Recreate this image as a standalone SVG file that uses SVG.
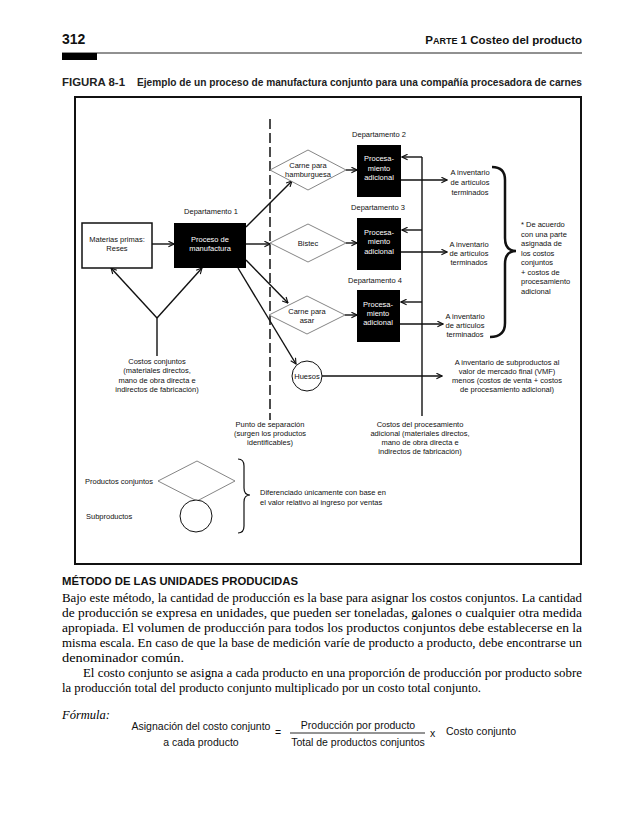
<svg xmlns="http://www.w3.org/2000/svg" width="638" height="820" viewBox="0 0 638 820">
<defs>
<style>
.t{font-family:"Liberation Sans",Arial,sans-serif;font-size:7.5px;fill:#111;}
.c{text-anchor:middle;}
.w{fill:#fff;}
.ln{stroke:#111;stroke-width:1.4;fill:none;}
.dia{fill:#fff;stroke:#777;stroke-width:0.9;}
.blk{fill:#000;}
.body{font-family:"Liberation Serif","Times New Roman",serif;font-size:12.5px;fill:#000;}
.f{font-family:"Liberation Sans",Arial,sans-serif;font-size:10.5px;fill:#111;}
</style>
<marker id="ah" viewBox="0 0 10 10" refX="9" refY="5" markerWidth="7" markerHeight="7" orient="auto" markerUnits="userSpaceOnUse">
<path d="M1,1 L9,5 L1,9" fill="none" stroke="#111" stroke-width="1.6"/>
</marker>
</defs>
<rect width="638" height="820" fill="#fff"/>

<g id="header">
<text x="62" y="44" font-family="Liberation Sans,Arial,sans-serif" font-weight="bold" font-size="14" fill="#111">312</text>
<text x="582" y="44" text-anchor="end" font-family="Liberation Sans,Arial,sans-serif" font-weight="bold" font-size="11.5" fill="#111">P<tspan font-size="9">ARTE</tspan> 1 Costeo del producto</text>
<line x1="62" y1="53" x2="582" y2="53" stroke="#222" stroke-width="1"/>
<rect x="62" y="53" width="35" height="7" fill="#000"/>
<text x="62" y="86" font-family="Liberation Sans,Arial,sans-serif" font-weight="bold" font-size="10.5" fill="#222" textLength="63" lengthAdjust="spacingAndGlyphs">FIGURA 8-1</text>
<text x="137" y="86" font-family="Liberation Sans,Arial,sans-serif" font-weight="bold" font-size="10.5" fill="#222" textLength="445" lengthAdjust="spacingAndGlyphs">Ejemplo de un proceso de manufactura conjunto para una compañía procesadora de carnes</text>
</g>

<g id="frame">
<rect x="75" y="97" width="506" height="467" fill="none" stroke="#111" stroke-width="2"/>
</g>

<g id="connectors">
<line x1="270" y1="119" x2="270" y2="420" stroke="#111" stroke-width="1.5" stroke-dasharray="10,4"/>
<line class="ln" x1="152" y1="244" x2="174" y2="244" marker-end="url(#ah)"/>
<line class="ln" x1="246" y1="227" x2="292" y2="181" marker-end="url(#ah)"/>
<line class="ln" x1="246" y1="244" x2="270" y2="244" marker-end="url(#ah)"/>
<line class="ln" x1="246" y1="260" x2="288" y2="303" marker-end="url(#ah)"/>
<line class="ln" x1="238" y1="268" x2="296" y2="364" marker-end="url(#ah)"/>
<line class="ln" x1="157" y1="318" x2="111" y2="268" marker-end="url(#ah)"/>
<line class="ln" x1="157" y1="318" x2="202" y2="268" marker-end="url(#ah)"/>
<line class="ln" x1="157" y1="318" x2="157" y2="356"/>
<line class="ln" x1="346" y1="170" x2="357" y2="170" marker-end="url(#ah)"/>
<line class="ln" x1="346" y1="243" x2="357" y2="243" marker-end="url(#ah)"/>
<line class="ln" x1="345" y1="315" x2="357" y2="315" marker-end="url(#ah)"/>
<line class="ln" x1="422" y1="157" x2="422" y2="416"/>
<line class="ln" x1="422" y1="157" x2="402" y2="157" marker-end="url(#ah)"/>
<line class="ln" x1="422" y1="230" x2="402" y2="230" marker-end="url(#ah)"/>
<line class="ln" x1="422" y1="302" x2="401" y2="302" marker-end="url(#ah)"/>
<line class="ln" x1="401" y1="180" x2="447" y2="180" marker-end="url(#ah)"/>
<line class="ln" x1="401" y1="252" x2="447" y2="252" marker-end="url(#ah)"/>
<line class="ln" x1="400" y1="324" x2="443" y2="324" marker-end="url(#ah)"/>
<line class="ln" x1="322" y1="376" x2="442" y2="376" marker-end="url(#ah)"/>
<path d="M492,167 Q505,167 505,180 L505,238 Q505,251 516,251 Q505,251 505,264 L505,323 Q505,337 490,337" fill="none" stroke="#111" stroke-width="2.5"/>
</g>

<g id="materias">
<rect x="82" y="223" width="70" height="45" fill="#fff" stroke="#111" stroke-width="1.5"/>
<text class="t c" x="117" y="242">Materias primas:</text>
<text class="t c" x="117" y="251">Reses</text>
</g>

<g id="dept1">
<text class="t c" x="211" y="214">Departamento 1</text>
<rect class="blk" x="174" y="223" width="72" height="45"/>
<text class="t c w" x="210" y="242">Proceso de</text>
<text class="t c w" x="210" y="251">manufactura</text>
</g>

<g id="costos-conjuntos">
<text class="t c" x="157" y="364">Costos conjuntos</text>
<text class="t c" x="157" y="373">(materiales directos,</text>
<text class="t c" x="157" y="383">mano de obra directa e</text>
<text class="t c" x="157" y="392">indirectos de fabricación)</text>
</g>

<g id="hamburguesa">
<polygon class="dia" points="270,170 308,150 346,170 308,190"/>
<text class="t c" x="308" y="168">Carne para</text>
<text class="t c" x="308" y="177">hamburguesa</text>
</g>

<g id="bistec">
<polygon class="dia" points="270,243 308,224 346,243 308,262"/>
<text class="t c" x="308" y="246">Bistec</text>
</g>

<g id="asar">
<polygon class="dia" points="269,315 307,296 345,315 307,334"/>
<text class="t c" x="307" y="314">Carne para</text>
<text class="t c" x="307" y="323">asar</text>
</g>

<g id="huesos">
<circle cx="307" cy="376" r="15" fill="#fff" stroke="#111" stroke-width="1"/>
<text class="t c" x="307" y="379">Huesos</text>
</g>

<g id="punto-separacion">
<text class="t c" x="270" y="427">Punto de separación</text>
<text class="t c" x="270" y="436">(surgen los productos</text>
<text class="t c" x="270" y="445">identificables)</text>
</g>

<g id="dept2">
<text class="t c" x="379" y="137">Departamento 2</text>
<rect class="blk" x="357" y="145" width="44" height="52"/>
<text class="t c w" x="379" y="161">Procesa-</text>
<text class="t c w" x="379" y="171">miento</text>
<text class="t c w" x="379" y="180">adicional</text>
</g>

<g id="dept3">
<text class="t c" x="378" y="210">Departamento 3</text>
<rect class="blk" x="357" y="218" width="44" height="52"/>
<text class="t c w" x="379" y="235">Procesa-</text>
<text class="t c w" x="379" y="244">miento</text>
<text class="t c w" x="379" y="254">adicional</text>
</g>

<g id="dept4">
<text class="t c" x="375" y="283">Departamento 4</text>
<rect class="blk" x="357" y="290" width="43" height="52"/>
<text class="t c w" x="378" y="307">Procesa-</text>
<text class="t c w" x="378" y="316">miento</text>
<text class="t c w" x="378" y="325">adicional</text>
</g>

<g id="inv2">
<text class="t c" x="470" y="175">A inventario</text>
<text class="t c" x="470" y="185">de artículos</text>
<text class="t c" x="470" y="195">terminados</text>
</g>
<g id="inv3">
<text class="t c" x="469" y="247">A inventario</text>
<text class="t c" x="469" y="256">de artículos</text>
<text class="t c" x="469" y="265">terminados</text>
</g>
<g id="inv4">
<text class="t c" x="465" y="319">A inventario</text>
<text class="t c" x="465" y="328">de artículos</text>
<text class="t c" x="465" y="337">terminados</text>
</g>

<g id="nota">
<text class="t" x="521" y="227">* De acuerdo</text>
<text class="t" x="521" y="236.5">con una parte</text>
<text class="t" x="521" y="246">asignada de</text>
<text class="t" x="521" y="255.5">los costos</text>
<text class="t" x="521" y="265">conjuntos</text>
<text class="t" x="521" y="274.5">+ costos de</text>
<text class="t" x="521" y="284">procesamiento</text>
<text class="t" x="521" y="293.5">adicional</text>
</g>

<g id="subproductos-inv">
<text class="t c" x="507" y="365">A inventario de subproductos al</text>
<text class="t c" x="507" y="374">valor de mercado final  (VMF)</text>
<text class="t c" x="507" y="383">menos (costos de venta + costos</text>
<text class="t c" x="507" y="392">de  procesamiento adicional)</text>
</g>

<g id="costos-proc">
<text class="t c" x="420" y="427">Costos del procesamiento</text>
<text class="t c" x="420" y="436">adicional (materiales directos,</text>
<text class="t c" x="420" y="445">mano de obra directa e</text>
<text class="t c" x="420" y="454">indirectos de fabricación)</text>
</g>

<g id="leyenda">
<text class="t" x="85" y="484">Productos conjuntos</text>
<polygon class="dia" points="158,481 197,461 235,481 197,501"/>
<text class="t" x="86" y="519">Subproductos</text>
<circle cx="196" cy="516" r="16" fill="#fff" stroke="#111" stroke-width="1"/>
<path d="M238,459 Q244,459 244,466 L244,488 Q244,495 250,495 Q244,495 244,502 L244,526 Q244,533 238,533" fill="none" stroke="#111" stroke-width="1.2"/>
<text class="t" x="260" y="495">Diferenciado únicamente con base en</text>
<text class="t" x="260" y="505">el valor relativo al ingreso por ventas</text>
</g>

<g id="texto">
<text x="62" y="585" font-family="Liberation Sans,Arial,sans-serif" font-weight="bold" font-size="11" fill="#111" textLength="236" lengthAdjust="spacingAndGlyphs">MÉTODO DE LAS UNIDADES PRODUCIDAS</text>
<text class="body" x="62" y="602" textLength="520" lengthAdjust="spacingAndGlyphs">Bajo este método, la cantidad de producción es la base para asignar los costos conjuntos. La cantidad</text>
<text class="body" x="62" y="617" textLength="520" lengthAdjust="spacingAndGlyphs">de producción se expresa en unidades, que pueden ser toneladas, galones o cualquier otra medida</text>
<text class="body" x="62" y="632" textLength="520" lengthAdjust="spacingAndGlyphs">apropiada. El volumen de producción para todos los productos conjuntos debe establecerse en la</text>
<text class="body" x="62" y="647" textLength="520" lengthAdjust="spacingAndGlyphs">misma escala. En caso de que la base de medición  varíe de producto a producto, debe encontrarse un</text>
<text class="body" x="62" y="662" textLength="122" lengthAdjust="spacingAndGlyphs">denominador común.</text>
<text class="body" x="83" y="677" textLength="499" lengthAdjust="spacingAndGlyphs">El costo conjunto se asigna a cada producto en una proporción de producción por producto sobre</text>
<text class="body" x="62" y="692" textLength="419" lengthAdjust="spacingAndGlyphs">la producción total del producto conjunto multiplicado por un costo total conjunto.</text>
<text class="body" x="62" y="719" font-style="italic">Fórmula:</text>
</g>

<g id="formula">
<text class="f c" x="201" y="730">Asignación del costo conjunto</text>
<text class="f c" x="201" y="746">a cada producto</text>
<text class="f c" x="278" y="736">=</text>
<text class="f c" x="358" y="729">Producción por producto</text>
<line x1="290" y1="733" x2="425" y2="733" stroke="#111" stroke-width="0.9"/>
<text class="f c" x="358" y="746">Total de productos conjuntos</text>
<text class="f" x="430" y="737">x</text>
<text class="f" x="446" y="735">Costo conjunto</text>
</g>
</svg>
